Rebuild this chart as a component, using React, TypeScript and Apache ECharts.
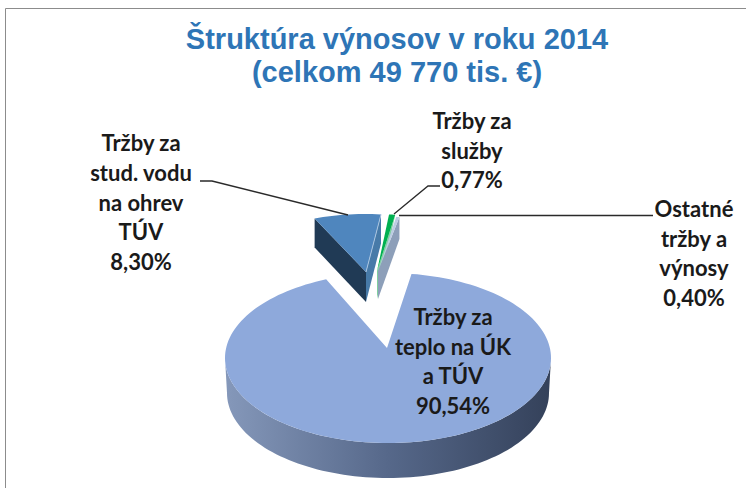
import React, { useEffect, useRef } from "react";
import * as echarts from "echarts";

const categories = ["Tržby za\nstud. vodu\nna ohrev\nTÚV", "Tržby za\nslužby", "Ostatné\ntržby a\nvýnosy", "Tržby za\nteplo na ÚK\na TÚV"];
const values = [8.3, 0.77, 0.4, 90.54];
const valueLabels = ["8,30%", "0,77%", "0,40%", "90,54%"];
const titleLines = ["Štruktúra výnosov v roku 2014", "(celkom 49 770 tis. €)"];

const START_DEG = -22.8;
const total = values.reduce((a, b) => a + b, 0);

const slices = [
  { apex: [366, 272], c: [365, 271], r: [130, 57], dApex: 30, dFar: 29, top: "#4F86BE", leftWall: "#203A55", rightWall: "#477AA8", trim: [0, 0], label: [141, 202], leader: [[200, 181], [212, 181], [348, 215]] },
  { apex: [377, 271], c: [373, 271], r: [130, 57], dApex: 28, dFar: 0, top: "#00B050", leftWall: null, rightWall: "#7FCF9F", trim: [0, 0], label: [472, 150], leader: [[440, 186], [428, 186], [394, 214]] },
  { apex: [378, 271], c: [374, 273], r: [130, 57], dApex: 28, dFar: 22, top: "#BCCCE2", leftWall: null, rightWall: "#8D9FB9", trim: [0, 0], label: [694, 253], leader: [[399, 215.5], [653, 215.5]] },
  { apex: [387, 348], c: [388, 358], r: [163, 85], dApex: 0, dFar: 35, top: "#8EA9DB", leftWall: null, rightWall: null, trim: [-3, 0.5], label: [453, 361], leader: null },
];

const rad = (d: number) => (d * Math.PI) / 180;

function renderSlice(_params: any, api: any) {
  const i = api.value(2);
  const s = slices[i];
  const a0 = START_DEG + (api.value(1) / total) * 360 + s.trim[0];
  const a1 = START_DEG + ((api.value(1) + api.value(0)) / total) * 360 + s.trim[1];
  const pt = (deg: number, drop = 0, shrink = 0) => [
    s.c[0] + (s.r[0] - shrink) * Math.sin(rad(deg)),
    s.c[1] - s.r[1] * Math.cos(rad(deg)) + drop,
  ];
  const arc: number[][] = [];
  const steps = Math.max(4, Math.ceil((a1 - a0) / 2));
  for (let k = 0; k <= steps; k++) arc.push(pt(a0 + ((a1 - a0) * k) / steps));
  const children: any[] = [];

  if (i === 3) {
    const wall: number[][] = [];
    const lower: number[][] = [];
    for (let d = 90; d <= 270; d += 2) {
      wall.push(pt(d));
      lower.push(pt(d, s.dFar, 2));
    }
    children.push({
      type: "polygon",
      shape: { points: wall.concat(lower.reverse()) },
      style: {
        fill: new echarts.graphic.LinearGradient(0, 0, 1, 0, [
          { offset: 0, color: "#8598BA" },
          { offset: 0.5, color: "#56688A" },
          { offset: 1, color: "#34415A" },
        ]),
      },
    });
  } else {
    const first = arc[0];
    const last = arc[arc.length - 1];
    if (s.leftWall) {
      children.push({
        type: "polygon",
        shape: { points: [first, s.apex, [s.apex[0], s.apex[1] + s.dApex], [first[0], first[1] + s.dFar]] },
        style: { fill: s.leftWall },
      });
    }
    if (s.rightWall) {
      children.push({
        type: "polygon",
        shape: { points: [last, s.apex, [s.apex[0], s.apex[1] + s.dApex], [last[0], last[1] + s.dFar]] },
        style: { fill: s.rightWall },
      });
    }
  }
  children.push({
    type: "polygon",
    shape: { points: [s.apex, ...arc] },
    style: { fill: s.top },
  });
  if (i === 0) {
    children.push({
      type: "polyline",
      shape: { points: [s.apex, arc[arc.length - 1]] },
      style: { stroke: "#A9C4E0", lineWidth: 1, fill: "none" },
    });
  }
  if (s.leader) {
    children.push({
      type: "polyline",
      shape: { points: s.leader },
      style: { stroke: "#2A2A2A", lineWidth: 1.3, fill: "none" },
    });
  }
  children.push({
    type: "text",
    style: {
      text: categories[i] + "\n" + valueLabels[i],
      x: s.label[0],
      y: s.label[1],
      fill: "#1A1A1A",
      font: "bold 22px Lato",
      lineHeight: 29.6,
      align: "center",
      verticalAlign: "middle",
    },
  });
  return { type: "group", children };
}

export default function App() {
  const ref = useRef<HTMLDivElement>(null);
  useEffect(() => {
    document.body.style.margin = "0";
    const chart = echarts.init(ref.current!, undefined, { renderer: "svg" });
    let cumulative = 0;
    const data = values.map((v, i) => {
      const row = [v, cumulative, i];
      cumulative += v;
      return row;
    });
    chart.setOption({
      animation: false,
      backgroundColor: "#FFFFFF",
      title: {
        text: titleLines.join("\n"),
        left: 392,
        top: 17,
        textAlign: "center",
        textStyle: {
          fontFamily: "Liberation Sans",
          fontWeight: "bold",
          fontSize: 29,
          lineHeight: 33,
          color: "#2E75B6",
        },
      },
      graphic: [
        { type: "line", shape: { x1: 5.5, y1: 8.5, x2: 746, y2: 8.5 }, style: { stroke: "#8C8C8C", lineWidth: 1 } },
        { type: "line", shape: { x1: 5.5, y1: 8.5, x2: 5.5, y2: 488 }, style: { stroke: "#8C8C8C", lineWidth: 1 } },
      ],
      series: [
        {
          type: "custom",
          coordinateSystem: "none",
          renderItem: renderSlice,
          data,
          silent: true,
        },
      ],
    });
    return () => chart.dispose();
  }, []);
  return <div ref={ref} style={{ position: "absolute", left: 0, top: 0, width: 746, height: 488 }} />;
}
